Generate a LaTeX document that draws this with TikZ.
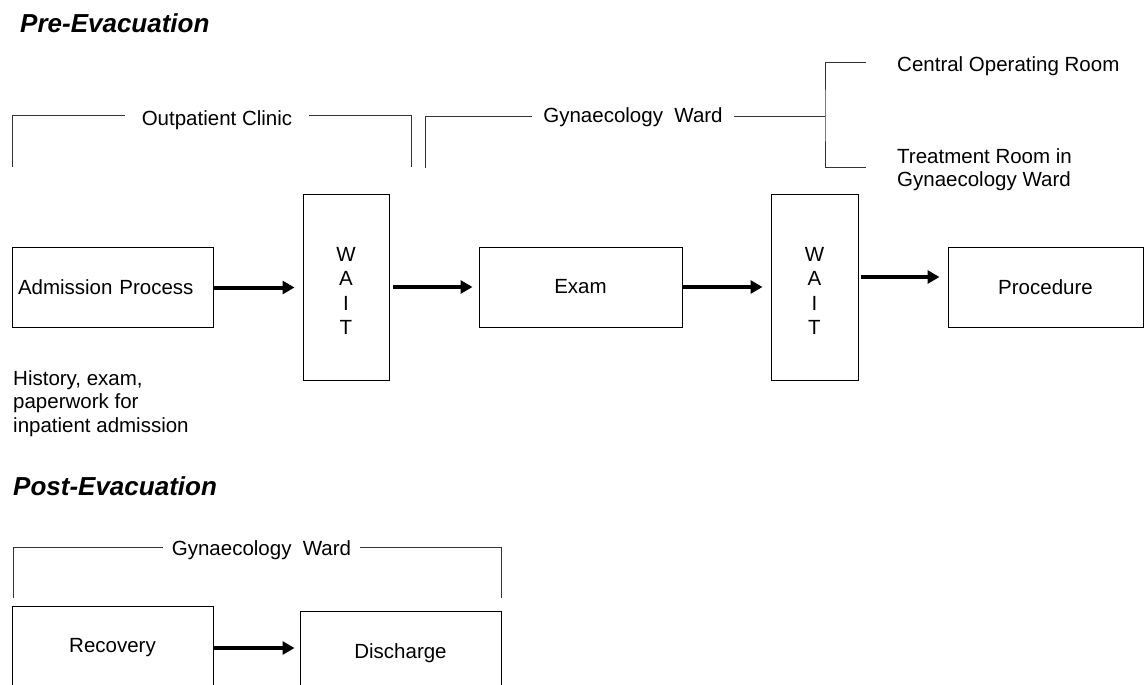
\documentclass[tikz,border=0pt]{standalone}
\usepackage{fontspec}
\setmainfont{Liberation Sans}
\usetikzlibrary{arrows.meta}
\begin{document}
\begin{tikzpicture}[x=1pt,y=-1pt,
  txt/.style={font=\fontsize{20.5}{23.5}\selectfont, inner sep=0pt},
  ttl/.style={font=\fontsize{26}{30}\selectfont\bfseries\itshape, inner sep=0pt, anchor=base west},
  box/.style={draw=black, line width=1pt, font=\fontsize{20.5}{23.5}\selectfont, inner sep=0pt},
  brk/.style={draw=black!80, line width=1pt},
  arr/.style={line width=4pt, -{Triangle[length=12pt,width=13pt]}}
]
\useasboundingbox (0,0) rectangle (1144,685);

% titles
\node[ttl] (t1) at (20,33) {Pre-Evacuation};
\node[ttl] (t2) at (13,495) {Post-Evacuation};

% Outpatient bracket
\node[txt, anchor=base, inner xsep=17pt] (oc) at (217,125) {Outpatient Clinic};
\coordinate (ocL) at (12,167);
\coordinate (ocR) at (411,167);
\draw[brk] (ocL) |- ([yshift=10pt]oc.base west);
\draw[brk] ([yshift=10pt]oc.base east) -| (ocR);

% Gynaecology ward bracket (top)
\node[txt, anchor=base, inner xsep=11.5pt] (gw) at (633,122) {Gynaecology~~Ward};
\coordinate (gwL) at (425,168);
\coordinate (bj) at (825,116);
\coordinate (s1) at (866,63);
\coordinate (s2) at (866,167);
\draw[brk] (gwL) |- ([yshift=6pt]gw.base west);
\draw[brk] ([yshift=6pt]gw.base east) -- (bj);
\draw[brk] (s1) -| (bj) |- (s2);
\node[txt, anchor=base west] (cor) at (897,72) {Central Operating Room};
\node[txt, anchor=north west, align=left] (trm) at (897,148) {Treatment Room in\\Gynaecology Ward};

% process row
\node[box, minimum width=201pt, minimum height=80pt, text width=189pt, inner xsep=6pt, align=left] (adm) at (112.5,287.5) {Admission Process};
\node[txt, anchor=north west, align=left] (hist) at (13,370) {History, exam,\\paperwork for\\inpatient admission};
\node[box, minimum width=86pt, minimum height=186pt] (w1) at (346,287) {};
\node[txt, align=center, font=\fontsize{20.5}{24.6}\selectfont] (w1t) at ([yshift=-4pt]w1.center) {W\\A\\I\\T};
\node[box, minimum width=203pt, minimum height=80pt] (exam) at (580.5,287) {Exam};
\node[box, minimum width=87pt, minimum height=186pt] (w2) at (814.5,287) {};
\node[txt, align=center, font=\fontsize{20.5}{24.6}\selectfont] (w2t) at ([yshift=-4pt]w2.center) {W\\A\\I\\T};
\node[box, minimum width=195pt, minimum height=80pt] (proc) at (1045.5,287) {Procedure};

\draw[arr, shorten >=8pt] (adm.east) -- (adm.east -| w1.west);
\draw[arr, shorten <=3pt, shorten >=6pt] (w1.east) -- (w1.east -| exam.west);
\draw[arr, shorten >=8pt] (exam.east) -- (exam.east -| w2.west);
\draw[arr, shorten <=2pt, shorten >=8pt] ([yshift=10pt]w2.east) -- ([yshift=10pt]w2.east -| proc.west);

% Post-evacuation
\node[txt, anchor=base, inner xsep=9pt] (gw2) at (261.5,555) {Gynaecology~~Ward};
\coordinate (g2L) at (13,598);
\coordinate (g2R) at (501,598);
\draw[brk] (g2L) |- ([yshift=8pt]gw2.base west);
\draw[brk] ([yshift=8pt]gw2.base east) -| (g2R);

\node[box, minimum width=201pt, minimum height=84pt] (rec) at (112.5,648) {Recovery};
\node[box, minimum width=201pt, minimum height=84pt] (dis) at (400.5,653) {Discharge};
\draw[arr, shorten >=5pt] (rec.east) -- (rec.east -| dis.west);
\end{tikzpicture}
\end{document}
